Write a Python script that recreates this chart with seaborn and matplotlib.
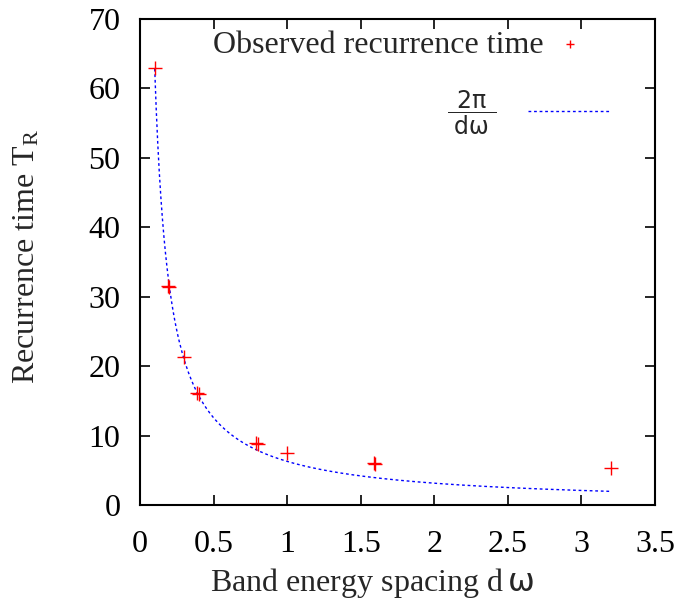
import numpy as np
import pandas as pd
import matplotlib
matplotlib.use("Agg")
import matplotlib.pyplot as plt
import seaborn as sns

dw_obs = [0.1, 0.19, 0.2, 0.3, 0.39, 0.4, 0.79, 0.8, 1.0, 1.59, 1.6, 3.2]
T_obs = [62.9, 31.6, 31.4, 21.3, 16.1, 16.0, 8.9, 8.8, 7.5, 6.0, 5.9, 5.4]

# Theoretical curve 2*pi/dw over the plotted range
curve_start, curve_end = 0.1, 3.2
dw_curve = np.linspace(curve_start, curve_end, 300)
T_curve = 2 * np.pi / dw_curve

x_ticks = [0, 0.5, 1, 1.5, 2, 2.5, 3, 3.5]
x_tick_labels = ["0", "0.5", "1", "1.5", "2", "2.5", "3", "3.5"]
y_ticks = [0, 10, 20, 30, 40, 50, 60, 70]

sns.set_style("ticks")
plt.rcParams["font.family"] = ["Liberation Serif", "DejaVu Serif"]
plt.rcParams["mathtext.fontset"] = "dejavusans"

FS = 23

fig = plt.figure(figsize=(6.78, 6.06), dpi=100)
ax = fig.add_axes([140/678, 1-505/606, (655-140)/678, (505-19)/606])

obs_df = pd.DataFrame({"dw": dw_obs, "T": T_obs})
curve_df = pd.DataFrame({"dw": dw_curve, "T": T_curve})

sns.scatterplot(data=obs_df, x="dw", y="T", marker="+", color="red", s=90,
                linewidth=1.0, ax=ax, label="Observed recurrence time", zorder=3)
sns.lineplot(data=curve_df, x="dw", y="T", color="blue", linewidth=1.0,
             linestyle=(0, (2, 2)), ax=ax,
             label=r"$\dfrac{\;\mathrm{2\pi}\;}{\;\mathrm{d\omega}\;}$", zorder=2)

ax.set_xlim(0, 3.5)
ax.set_ylim(0, 70)
ax.set_xticks(x_ticks)
ax.set_xticklabels(x_tick_labels)
ax.set_yticks(y_ticks)
ax.tick_params(direction="in", length=7, width=1.2, top=True, right=True,
               labelsize=FS, colors="black")
ax.tick_params(axis="x", pad=18)
ax.tick_params(axis="y", pad=14)
for s in ax.spines.values():
    s.set_visible(True)
    s.set_linewidth(1.5)
    s.set_color("black")

ax.set_xlabel(r"Band energy spacing d$\,\mathrm{\omega}$", fontsize=FS)
ax.set_ylabel(r"Recurrence time $\mathregular{T_R}$", fontsize=FS)
ax.xaxis.set_label_coords((372-140)/515, (505-566)/486)
ax.yaxis.set_label_coords((42-140)/515, (505-256)/486)

handles, labels = ax.get_legend_handles_labels()
if ax.get_legend():
    ax.get_legend().remove()

leg1 = ax.legend([handles[0]], [labels[0]], loc="center right",
                 bbox_to_anchor=((586-140)/515, (505-45)/486),
                 frameon=False, markerfirst=False, fontsize=FS, handlelength=1.0,
                 handletextpad=0.34, markerscale=0.6, borderpad=0, borderaxespad=0)
ax.add_artist(leg1)
leg2 = ax.legend([handles[1]], [labels[1]], loc="center right",
                 bbox_to_anchor=((611-140)/515, (505-113)/486),
                 frameon=False, markerfirst=False, fontsize=17, handlelength=83/17*72/100,
                 handletextpad=31/17*72/100, borderpad=0, borderaxespad=0)

fig.savefig("out.png", dpi=100)
